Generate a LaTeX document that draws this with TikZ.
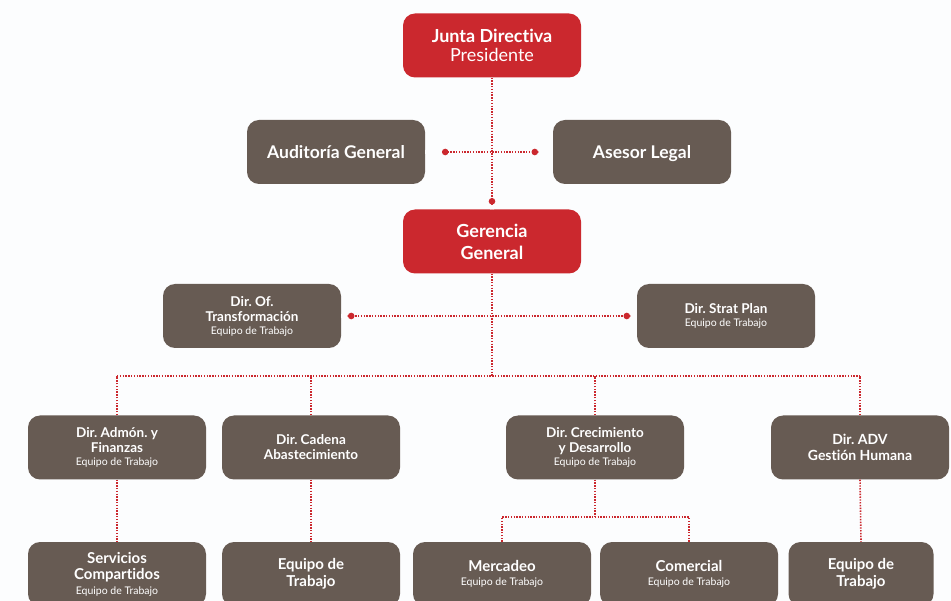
\documentclass[tikz,border=0pt]{standalone}
\usepackage{fontspec}
\setmainfont{Lato}[Ligatures=CommonOff]
\usetikzlibrary{arrows.meta}
\definecolor{boxbrown}{HTML}{675B53}
\definecolor{boxred}{HTML}{CB282E}
\definecolor{bg}{HTML}{FCFDFE}
\frenchspacing
\begin{document}
\begin{tikzpicture}[x=1pt,y=-1pt,
  base/.style={rounded corners=12pt, minimum width=178pt, minimum height=64pt,
    text=white, align=center, inner sep=2pt},
  redbox/.style={base, fill=boxred, font=\bfseries\fontsize{18}{20}\selectfont},
  brownbox/.style={base, fill=boxbrown, font=\frenchspacing\bfseries\fontsize{13.5}{15}\selectfont},
  bigbrown/.style={base, fill=boxbrown, font=\bfseries\fontsize{15}{16.5}\selectfont},
  onebox/.style={brownbox, font=\bfseries\fontsize{17.5}{20}\selectfont, text height=16pt, text depth=3pt},
  dotline/.style={draw=boxred, line width=1.6pt, dash pattern=on 1.4pt off 1.4pt},
]
\def\sub#1{\\[-2pt]{\mdseries\fontsize{10.5}{12}\selectfont #1}}
\useasboundingbox (0,0) rectangle (951,601);
\fill[bg] (0,0) rectangle (951,601);
\clip (0,0) rectangle (951,601);

% nodes
\node[redbox] (jd) at (492,45.5) {Junta Directiva\\[-1pt]{\mdseries Presidente}};
\node[onebox] (aud) at (336,152) {Auditoría General};
\node[onebox] (ase) at (642,152) {Asesor Legal};
\node[redbox, font=\bfseries\fontsize{18}{22}\selectfont] (gg) at (492,241.5) {Gerencia\\General};
\node[brownbox] (tra) at (252,316) {Dir.\ Of.\\Transformación\sub{Equipo de Trabajo}};
\node[brownbox] (stp) at (726,316) {Dir.\ Strat Plan\sub{Equipo de Trabajo}};

\node[brownbox] (adm) at (117,447.5) {Dir.\ Admón.\ y\\Finanzas\sub{Equipo de Trabajo}};
\node[brownbox] (cad) at (311,447.5) {Dir.\ Cadena\\Abastecimiento};
\node[brownbox] (cre) at (595,447.5) {Dir.\ Crecimiento\\y Desarrollo\sub{Equipo de Trabajo}};
\node[brownbox, font=\bfseries\fontsize{14}{16}\selectfont] (adv) at (860,447.5) {Dir.\ ADV\\Gestión Humana};

\node[bigbrown] (srv) at (117,574) {Servicios\\Compartidos\sub{Equipo de Trabajo}};
\node[bigbrown] (eq1) at (311,574) {Equipo de\\Trabajo};
\node[bigbrown] (mer) at (502,574) {Mercadeo\sub{Equipo de Trabajo}};
\node[bigbrown] (com) at (689,574) {Comercial\sub{Equipo de Trabajo}};
\node[bigbrown, minimum width=145pt] (eq2) at (861,574) {Equipo de\\Trabajo};

\coordinate (bus) at (492,376);
\coordinate (subbus) at (595,517);

% connectors
\draw[dotline] (jd.south) -- (gg.north);
\draw[dotline] (aud.east) -- (ase.west);
\fill[bg] (aud.east) rectangle ++(16.5,2) (aud.east) rectangle ++(16.5,-2);
\fill[bg] (ase.west) rectangle ++(-14.5,2) (ase.west) rectangle ++(-14.5,-2);
\fill[bg] (gg.north) rectangle ++(2,-4.5) (gg.north) rectangle ++(-2,-4.5);
\fill[boxred] (gg.north) ++(0,-8) circle (3.3pt);
\fill[boxred] (aud.east) ++(20,0) circle (3.3pt);
\fill[boxred] (ase.west) ++(-18,0) circle (3.3pt);

\draw[dotline] (tra.east) -- (stp.west);
\fill[bg] (tra.east) rectangle ++(6.5,2) (tra.east) rectangle ++(6.5,-2);
\fill[bg] (stp.west) rectangle ++(-6.5,2) (stp.west) rectangle ++(-6.5,-2);
\fill[boxred] (tra.east) ++(10,0) circle (3.3pt);
\fill[boxred] (stp.west) ++(-10,0) circle (3.3pt);

\draw[dotline] (gg.south) -- (bus);
\draw[dotline] (adm.north |- bus) -- (adv.north |- bus);
\draw[dotline] (adm.north) -- (adm.north |- bus);
\draw[dotline] (cad.north) -- (cad.north |- bus);
\draw[dotline] (cre.north) -- (cre.north |- bus);
\draw[dotline] (adv.north) -- (adv.north |- bus);

\draw[dotline] (adm.south) -- (srv.north);
\draw[dotline] (cad.south) -- (eq1.north);
\draw[dotline] (adv.south) -- (eq2.north);
\draw[dotline] (cre.south) -- (subbus);
\draw[dotline] (mer.north) |- (subbus) -| (com.north);
\end{tikzpicture}
\end{document}
